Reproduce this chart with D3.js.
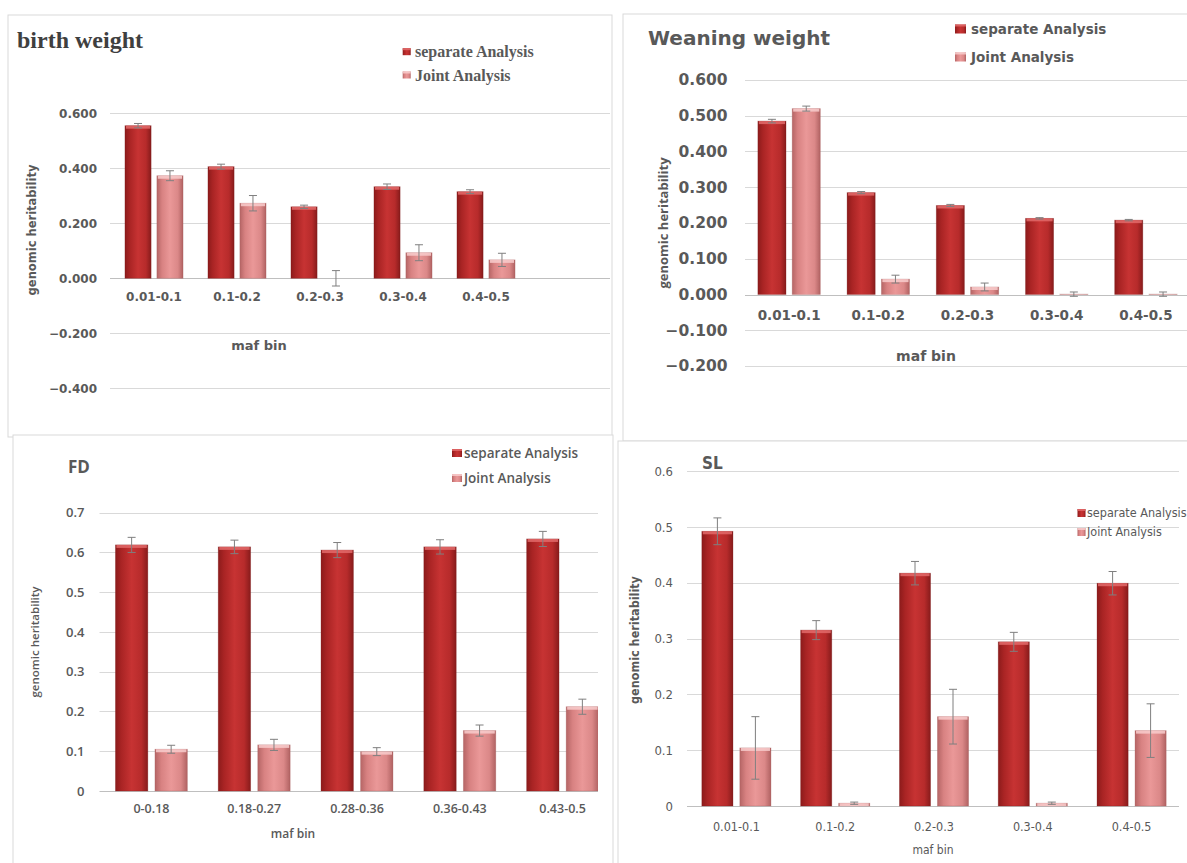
<!DOCTYPE html>
<meta charset="utf-8">
<script src="https://d3js.org/d3.v7.min.js"></script>
<style>
  body { margin: 0; background: #fff; }
</style>
<div id="chart"></div>
<script>

// ---- data ----
const seriesNames = ["separate Analysis", "Joint Analysis"];

const birthBins = ["0.01-0.1", "0.1-0.2", "0.2-0.3", "0.3-0.4", "0.4-0.5"];
const birthSeparate = [0.555, 0.406, 0.260, 0.333, 0.315];
const birthSeparateErr = [0.008, 0.009, 0.006, 0.010, 0.007];
const birthJoint = [0.373, 0.273, 0.000, 0.093, 0.067];
const birthJointErr = [0.018, 0.028, 0.028, 0.029, 0.024];
const birthTicks = [-0.4, -0.2, 0, 0.2, 0.4, 0.6];

const weanBins = ["0.01-0.1", "0.1-0.2", "0.2-0.3", "0.3-0.4", "0.4-0.5"];
const weanSeparate = [0.485, 0.285, 0.249, 0.213, 0.208];
const weanSeparateErr = [0.005, 0.003, 0.003, 0.002, 0.002];
const weanJoint = [0.520, 0.043, 0.021, 0.001, 0.001];
const weanJointErr = [0.007, 0.011, 0.011, 0.006, 0.006];
const weanTicks = [-0.2, -0.1, 0, 0.1, 0.2, 0.3, 0.4, 0.5, 0.6];

const fdBins = ["0-0.18", "0.18-0.27", "0.28-0.36", "0.36-0.43", "0.43-0.5"];
const fdSeparate = [0.619, 0.614, 0.606, 0.614, 0.634];
const fdSeparateErr = [0.019, 0.017, 0.019, 0.018, 0.019];
const fdJoint = [0.105, 0.116, 0.099, 0.152, 0.212];
const fdJointErr = [0.010, 0.014, 0.010, 0.014, 0.019];
const fdTicks = [0, 0.1, 0.2, 0.3, 0.4, 0.5, 0.6, 0.7];

const slBins = ["0.01-0.1", "0.1-0.2", "0.2-0.3", "0.3-0.4", "0.4-0.5"];
const slSeparate = [0.492, 0.315, 0.417, 0.294, 0.399];
const slSeparateErr = [0.024, 0.017, 0.021, 0.017, 0.021];
const slJoint = [0.104, 0.005, 0.160, 0.005, 0.135];
const slJointErr = [0.056, 0.002, 0.049, 0.002, 0.048];
const slTicks = [0, 0.1, 0.2, 0.3, 0.4, 0.5, 0.6];

// ---- styles ----
const textColor = "#595959";
const gridColor = "#d9d9d9";
const errColor = "#7f7f7f";

const sans = "'DejaVu Sans', sans-serif";
const serif = "'Liberation Serif', 'Times New Roman', serif";
const open = "'Open Sans', sans-serif";
const cond = "'DejaVu Sans Condensed', 'DejaVu Sans', sans-serif";

const svg = d3.select("#chart").append("svg")
    .attr("width", 1187)
    .attr("height", 863);

const defs = svg.append("defs");

function gradient(id, stops) {
  const g = defs.append("linearGradient").attr("id", id)
      .attr("x1", 0).attr("x2", 1).attr("y1", 0).attr("y2", 0);
  stops.forEach(s => g.append("stop").attr("offset", s[0]).attr("stop-color", s[1]));
}
gradient("gSep", [[0, "#8c1b1b"], [0.18, "#a92424"], [0.5, "#c73333"], [0.8, "#b72b2b"], [1, "#871b1b"]]);
gradient("gJoint", [[0, "#b56565"], [0.2, "#d88282"], [0.5, "#ea9898"], [0.8, "#db8888"], [1, "#b06262"]]);

const fills = ["url(#gSep)", "url(#gJoint)"];
const tops = ["#e26a6a", "#f8cccc"];
const edges = ["#7a1616", "#a35858"];

defs.append("clipPath").attr("id", "clipFD")
  .append("rect").attr("x", 0).attr("y", 420).attr("width", 598).attr("height", 460);

const panels = [
  {
    title: "birth weight", bins: birthBins, series: [birthSeparate, birthJoint],
    errs: [birthSeparateErr, birthJointErr], ticks: birthTicks, fmt: d3.format(".3f"),
    box: [8, 15, 612, 437], xr: [112.5, 527.5], yr: [388.3, 113.3], grid: [110, 610],
    labelRight: 97, catY: 297, ylab: [32, 230], maf: [259, 345], titlePos: [17, 48],
    legend: {x: 402.7, tx: 415, rows: [51.7, 75], w: 8, h: 7},
    fonts: {
      tick: [sans, 12, "bold"], cat: [sans, 12, "bold"], ylab: [sans, 11.5, "bold"],
      maf: [sans, 13, "bold"], legend: [serif, 16, "bold"], title: [serif, 24, "bold"]
    },
    titleColor: "#3f3f3f", cap: 4
  },
  {
    title: "Weaning weight", bins: weanBins, series: [weanSeparate, weanJoint],
    errs: [weanSeparateErr, weanJointErr], ticks: weanTicks, fmt: d3.format(".3f"),
    box: [623, 14, 1200, 441], xr: [744.5, 1190.5], yr: [366, 80], grid: [745, 1187],
    labelRight: 727.5, catY: 315, ylab: [663, 223], maf: [926, 356], titlePos: [648, 45],
    legend: {x: 955, tx: 971, rows: [29, 57], w: 11, h: 9},
    fonts: {
      tick: [sans, 15.5, "bold"], cat: [sans, 13.5, "bold"], ylab: [open, 13, 700],
      maf: [sans, 14, "bold"], legend: [sans, 13.5, "bold"], title: [sans, 20, "bold"]
    },
    titleColor: textColor, cap: 4
  },
  {
    title: "FD", bins: fdBins, series: [fdSeparate, fdJoint],
    errs: [fdSeparateErr, fdJointErr], ticks: fdTicks, fmt: d3.format("~g"),
    box: [13, 435, 613, 880], xr: [100, 614], yr: [791, 512.7], grid: [99.5, 598],
    labelRight: 84.5, catY: 809, ylab: [34.5, 642], maf: [293, 834], titlePos: [68, 473],
    legend: {x: 452, tx: 464, rows: [453, 478], w: 10, h: 8},
    fonts: {
      tick: [open, 13, 600], cat: [open, 12.5, 600], ylab: [open, 11.5, 600],
      maf: [open, 12, 600], legend: [open, 13.5, 600], title: [open, 17, 700]
    },
    titleColor: textColor, cap: 4, clip: "url(#clipFD)"
  },
  {
    title: "SL", bins: slBins, series: [slSeparate, slJoint],
    errs: [slSeparateErr, slJointErr], ticks: slTicks, fmt: d3.format("~g"),
    box: [618, 441, 1200, 880], xr: [687, 1181], yr: [806, 471], grid: [687, 1179],
    labelRight: 673, catY: 827, ylab: [635, 640], maf: [933, 850], titlePos: [702, 469],
    legend: {x: 1077.5, tx: 1087, rows: [513, 532], w: 8, h: 8},
    fonts: {
      tick: [cond, 13, "normal"], cat: [cond, 12.5, "normal"], ylab: [cond, 12.5, "bold"],
      maf: [cond, 12, "normal"], legend: [cond, 12.5, "normal"], title: [cond, 17, "bold"]
    },
    titleColor: textColor, cap: 4
  }
];

function font(sel, f) {
  return sel.style("font-family", f[0]).style("font-size", f[1] + "px")
      .style("font-weight", f[2]).attr("fill", textColor);
}

function drawPanel(p) {
  const g = svg.append("g");

  // chart frame
  g.append("rect")
      .attr("x", p.box[0]).attr("y", p.box[1])
      .attr("width", p.box[2] - p.box[0]).attr("height", p.box[3] - p.box[1])
      .attr("fill", "#fff").attr("stroke", gridColor).attr("stroke-width", 1);

  const y = d3.scaleLinear()
      .domain([p.ticks[0], p.ticks[p.ticks.length - 1]])
      .range(p.yr);

  const x0 = d3.scaleBand()
      .domain(p.bins)
      .range(p.xr)
      .paddingInner(0.3)
      .paddingOuter(0.15);

  const x1 = d3.scaleBand()
      .domain([0, 1])
      .range([0, x0.bandwidth()])
      .paddingInner(0.18);

  const plot = g.append("g");
  if (p.clip) plot.attr("clip-path", p.clip);

  // gridlines
  plot.selectAll("line.grid")
    .data(p.ticks)
    .join("line")
      .attr("class", "grid")
      .attr("x1", p.grid[0]).attr("x2", p.grid[1])
      .attr("y1", d => Math.round(y(d)) + 0.5).attr("y2", d => Math.round(y(d)) + 0.5)
      .attr("stroke", d => d === 0 ? "#bfbfbf" : gridColor)
      .attr("stroke-width", 1);

  // bars
  const rows = [];
  p.bins.forEach((b, i) => p.series.forEach((s, k) =>
    rows.push({bin: b, k: k, v: s[i], e: p.errs[k][i]})));

  plot.selectAll("rect.bar")
    .data(rows)
    .join("rect")
      .attr("class", "bar")
      .attr("x", d => x0(d.bin) + x1(d.k))
      .attr("width", x1.bandwidth())
      .attr("y", d => y(Math.max(0, d.v)))
      .attr("height", d => Math.abs(y(d.v) - y(0)))
      .attr("fill", d => fills[d.k])
      .attr("stroke", d => edges[d.k])
      .attr("stroke-opacity", 0.35)
      .attr("stroke-width", 0.8);

  // bevel highlight along the top of every bar
  plot.selectAll("rect.hi")
    .data(rows.filter(d => Math.abs(y(d.v) - y(0)) > 0.5))
    .join("rect")
      .attr("class", "hi")
      .attr("x", d => x0(d.bin) + x1(d.k) + 1)
      .attr("width", x1.bandwidth() - 2)
      .attr("y", d => y(Math.max(0, d.v)))
      .attr("height", d => Math.min(3, Math.abs(y(d.v) - y(0))))
      .attr("fill", d => tops[d.k])
      .attr("opacity", 0.85);

  // error bars
  const eb = plot.selectAll("g.err")
    .data(rows)
    .join("g")
      .attr("class", "err")
      .attr("transform", d => "translate(" + (x0(d.bin) + x1(d.k) + x1.bandwidth() / 2) + ",0)")
      .attr("stroke", errColor)
      .attr("stroke-width", 1);
  eb.append("line")
      .attr("x1", 0).attr("x2", 0)
      .attr("y1", d => y(d.v - d.e)).attr("y2", d => y(d.v + d.e));
  eb.append("line")
      .attr("x1", -p.cap).attr("x2", p.cap)
      .attr("y1", d => y(d.v + d.e)).attr("y2", d => y(d.v + d.e));
  eb.append("line")
      .attr("x1", -p.cap).attr("x2", p.cap)
      .attr("y1", d => y(d.v - d.e)).attr("y2", d => y(d.v - d.e));

  // value axis labels
  const ya = g.append("g")
      .attr("transform", "translate(" + p.labelRight + ",0)")
      .call(d3.axisLeft(y).tickValues(p.ticks).tickFormat(p.fmt).tickSize(0).tickPadding(0));
  ya.select(".domain").remove();
  font(ya.selectAll("text"), p.fonts.tick);

  // category labels
  const xa = g.append("g")
      .attr("transform", "translate(0," + p.catY + ")")
      .call(d3.axisBottom(x0).tickSize(0).tickPadding(0));
  xa.select(".domain").remove();
  font(xa.selectAll("text").attr("y", 0).attr("dy", "0.35em"), p.fonts.cat);

  // axis titles
  font(g.append("text")
      .attr("transform", "translate(" + p.ylab[0] + "," + p.ylab[1] + ") rotate(-90)")
      .attr("text-anchor", "middle").attr("dy", "0.35em")
      .text("genomic heritability"), p.fonts.ylab);

  font(g.append("text")
      .attr("x", p.maf[0]).attr("y", p.maf[1])
      .attr("text-anchor", "middle").attr("dy", "0.35em")
      .text("maf bin"), p.fonts.maf);

  font(g.append("text")
      .attr("x", p.titlePos[0]).attr("y", p.titlePos[1])
      .text(p.title), p.fonts.title).attr("fill", p.titleColor);

  // legend
  const lg = g.selectAll("g.leg")
    .data(seriesNames)
    .join("g")
      .attr("class", "leg")
      .attr("transform", (d, i) => "translate(0," + p.legend.rows[i] + ")");
  lg.append("rect")
      .attr("x", p.legend.x).attr("y", -p.legend.h / 2)
      .attr("width", p.legend.w).attr("height", p.legend.h)
      .attr("fill", (d, i) => fills[i]);
  lg.append("rect")
      .attr("x", p.legend.x).attr("y", -p.legend.h / 2)
      .attr("width", p.legend.w).attr("height", 2)
      .attr("fill", (d, i) => tops[i]).attr("opacity", 0.85);
  font(lg.append("text")
      .attr("x", p.legend.tx).attr("dy", "0.35em")
      .text(d => d), p.fonts.legend);
}

panels.forEach(drawPanel);

</script>
